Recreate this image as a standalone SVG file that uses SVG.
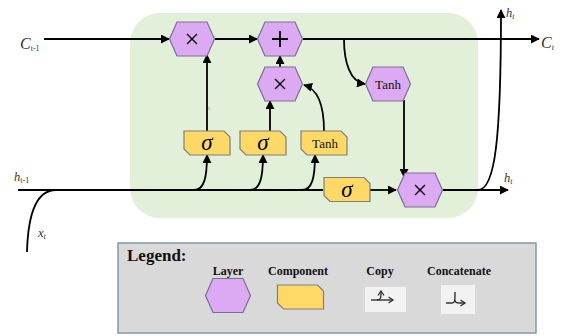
<svg xmlns="http://www.w3.org/2000/svg" width="563" height="336" viewBox="0 0 563 336">
<style>
.hex{fill:#dcaaf2;stroke:#7a6e96;stroke-width:1.2}
.comp{fill:#ffd966;stroke:#7f7f7f;stroke-width:1.2}
.ln{fill:none;stroke:#000;stroke-width:1.8}
.op{fill:none;stroke:#000;stroke-width:1.4}
.lbl{font-family:"Liberation Serif",serif;font-style:italic;fill:#333}
.sub{font-family:"Liberation Serif",serif;font-size:8px;fill:#333}
.sig{font-family:"Liberation Serif",serif;font-style:italic;font-size:23px;fill:#000}
.tanh{font-family:"Liberation Serif",serif;font-size:13px;fill:#111}
.leg{font-family:"Liberation Serif",serif;font-weight:bold;font-size:12px;fill:#111}
.icon{fill:#f2f2f2}
.ic{fill:none;stroke:#333;stroke-width:1.4}
</style>
<defs>
<polygon id="hexShape" points="-22.5,0 -15,-17 15,-17 22.5,0 15,17 -15,17"/>
<polygon id="compShape" points="-23,-12 17,-12 23,-6 23,12 -17,12 -23,6"/>
<marker id="arr" viewBox="0 0 10 10" refX="9" refY="5" markerWidth="5" markerHeight="5" orient="auto">
<path d="M0,0 L10,5 L0,10 z" fill="#000"/>
</marker>
<marker id="arrs" viewBox="0 0 7 8" refX="5.5" refY="4" markerWidth="7" markerHeight="8" orient="auto" markerUnits="userSpaceOnUse">
<path d="M1,1 L5.5,4 L1,7" fill="none" stroke="#333" stroke-width="1.3"/>
</marker>
</defs>

<rect x="130" y="13" width="348" height="205" rx="30" ry="30" fill="#e2efd9"/>

<g id="connectors">
<path class="ln" d="M44 39 H169" marker-end="url(#arr)"/>
<path class="ln" d="M215 39 H257" marker-end="url(#arr)"/>
<path class="ln" d="M303 39 H539" marker-end="url(#arr)"/>
<path class="ln" d="M344 39 C 344 62, 350 82, 365 84" marker-end="url(#arr)"/>
<path class="ln" d="M404 100 V177" marker-end="url(#arr)"/>
<path class="ln" d="M207 131 V55" marker-end="url(#arr)"/>
<path class="ln" d="M270 131 V101" marker-end="url(#arr)"/>
<path class="ln" d="M280 67 V56" marker-end="url(#arr)"/>
<path class="ln" d="M324 131 C 324 105, 318 89, 304 85" marker-end="url(#arr)"/>
<path class="ln" d="M18 190 H323"/>
<path class="ln" d="M27 252 C 28 214, 36 190, 56 190"/>
<path class="ln" d="M194 190 C 204 190, 207 178, 207 155" marker-end="url(#arr)"/>
<path class="ln" d="M250 190 C 260 190, 263 178, 263 155" marker-end="url(#arr)"/>
<path class="ln" d="M302 190 C 312 190, 315 178, 315 155" marker-end="url(#arr)"/>
<path class="ln" d="M370 190 H396" marker-end="url(#arr)"/>
<path class="ln" d="M443 190 H508" marker-end="url(#arr)"/>
<path class="ln" d="M478 190 C 495 190, 501 140, 501 10" marker-end="url(#arr)"/>
</g>

<g id="mul1"><use href="#hexShape" class="hex" transform="translate(192,39)"/><path class="op" d="M187 34 L197 44 M197 34 L187 44"/></g>
<g id="add"><use href="#hexShape" class="hex" transform="translate(280,39)"/><path class="op" style="stroke-width:1.8" d="M272 39 H288 M280 31 V47"/></g>
<g id="mul2"><use href="#hexShape" class="hex" transform="translate(280,84)"/><path class="op" d="M275 79 L285 89 M285 79 L275 89"/></g>
<g id="tanh1"><use href="#hexShape" class="hex" transform="translate(388,84)"/><text class="tanh" x="388" y="88.5" text-anchor="middle">Tanh</text></g>
<g id="mul3"><use href="#hexShape" class="hex" transform="translate(420,190)"/><path class="op" d="M415 185 L425 195 M425 185 L415 195"/></g>

<g id="sig1"><use href="#compShape" class="comp" transform="translate(207,143)"/><text class="sig" x="207" y="150" text-anchor="middle">σ</text></g>
<g id="sig2"><use href="#compShape" class="comp" transform="translate(263,143)"/><text class="sig" x="263" y="150" text-anchor="middle">σ</text></g>
<g id="tanh2"><use href="#compShape" class="comp" transform="translate(324,143)"/><text class="tanh" x="325" y="148" text-anchor="middle">Tanh</text></g>
<g id="sig3"><use href="#compShape" class="comp" transform="translate(347,189.5)"/><text class="sig" x="347" y="196.5" text-anchor="middle">σ</text></g>

<text x="208" y="109" font-family="Liberation Serif,serif" font-style="italic" font-size="5" fill="#999">f<tspan font-size="3.5" dy="1">t</tspan></text>

<g id="labels">
<text class="lbl" x="20" y="49" font-size="16">C<tspan class="sub" font-style="normal" dy="2">t-1</tspan></text>
<text class="lbl" x="541" y="48" font-size="16">C<tspan class="sub" dy="2">t</tspan></text>
<text class="lbl" x="506" y="17" font-size="12.5">h<tspan class="sub" dy="2">t</tspan></text>
<text class="lbl" x="504" y="182" font-size="12.5">h<tspan class="sub" dy="2">t</tspan></text>
<text class="lbl" x="14" y="181" font-size="12.5">h<tspan class="sub" font-style="normal" dy="2">t-1</tspan></text>
<text class="lbl" x="38" y="237" font-size="12.5">x<tspan class="sub" dy="2">t</tspan></text>
</g>

<g id="legend">
<rect x="118" y="243" width="418" height="90" fill="#d9d9d9" stroke="#8497b0" stroke-width="1.5"/>
<text x="127" y="261" font-family="Liberation Serif,serif" font-weight="bold" font-size="17" fill="#111">Legend:</text>
<text class="leg" x="228" y="275" text-anchor="middle">Layer</text>
<text class="leg" x="298" y="275" text-anchor="middle">Component</text>
<text class="leg" x="380" y="275" text-anchor="middle">Copy</text>
<text class="leg" x="459" y="275" text-anchor="middle">Concatenate</text>
<use href="#hexShape" class="hex" transform="translate(228,295.5)"/>
<use href="#compShape" class="comp" transform="translate(300.5,297)"/>
<rect class="icon" x="365" y="287" width="41" height="25"/>
<path class="ic" d="M371 300 H393" marker-end="url(#arrs)"/>
<path class="ic" d="M377 300 C 381 300, 381 298, 381 291" marker-end="url(#arrs)"/>
<rect class="icon" x="441" y="285" width="34" height="29"/>
<path class="ic" d="M446 303 H452 C 455 303, 455 301, 455 292 M455 300 C 455 303, 457 303, 459 303 H465" marker-end="url(#arrs)"/>
</g>
</svg>
